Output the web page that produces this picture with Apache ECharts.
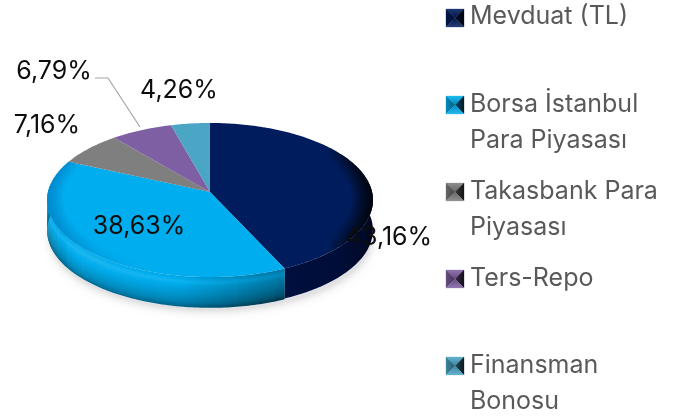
<!DOCTYPE html>
<html><head><meta charset="utf-8">
<style>html,body{margin:0;padding:0;background:#fff}#c{width:678px;height:418px}</style>
<script src="https://cdn.jsdelivr.net/npm/echarts@6/dist/echarts.min.js"></script>
</head><body><div id="c"></div>
<script>
const categories = ['Mevduat (TL)', 'Borsa İstanbul Para Piyasası', 'Takasbank Para Piyasası', 'Ters-Repo', 'Finansman Bonosu'];
const values = [43.16, 38.63, 7.16, 6.79, 4.26];
const valueLabels = ['43,16%', '38,63%', '7,16%', '6,79%', '4,26%'];
const legendLines = [['Mevduat (TL)'], ['Borsa İstanbul', 'Para Piyasası'], ['Takasbank Para', 'Piyasası'], ['Ters-Repo'], ['Finansman', 'Bonosu']];
const colors = ['#001c5c', '#00aeef', '#7f7f7f', '#7f5fa3', '#4ba6c6'];

const labelAt = [[389, 237], [139, 226], [47, 125], [54, 71], [179, 90]];
const CX = 210, CY = 192, R = 162, H = 76.2, K = 0.104, DEPTH = 30;
const total = values.reduce((a, b) => a + b, 0);
function proj(t, r) {
  const u = Math.sin(t) * r, v = Math.cos(t) * r, d = 1 + K * v;
  return [CX + R * u / d, CY - H * v / d];
}
function arc(a, b, r) {
  const p = [], n = Math.max(2, Math.ceil((b - a) * 60));
  for (let i = 0; i <= n; i++) p.push(proj(a + (b - a) * i / n, r));
  return p;
}
function shade(hex, f) {
  const n = parseInt(hex.slice(1), 16);
  const c = [n >> 16, (n >> 8) & 255, n & 255].map(x => Math.round(f >= 0 ? x + (255 - x) * f : x * (1 + f)));
  return 'rgb(' + c.join(',') + ')';
}
// shading profile of the wall from its upper edge to its lower edge
const profile = [[0, 0], [0.18, 0.12], [0.3, 0.03], [0.6, -0.08], [0.85, -0.2], [1, -0.36]];
function profileAt(t) {
  for (let i = 1; i < profile.length; i++) {
    if (t <= profile[i][0]) {
      const [a, fa] = profile[i - 1], [b, fb] = profile[i];
      return fa + (fb - fa) * (t - a) / (b - a);
    }
  }
  return profile[profile.length - 1][1];
}
let cum = 0;
const spans = values.map(v => { const a = cum / total * 2 * Math.PI; cum += v; return [a, cum / total * 2 * Math.PI]; });
const STRIPS = 30, RINGS = 8;

function renderSlice(params) {
  const i = params.dataIndex, [a, b] = spans[i], kids = [];
  const visA = Math.max(a, Math.PI * 0.47), visB = Math.min(b, Math.PI * 1.53);
  if (visB > visA) {
    const outer = arc(visA, visB, 1);
    const xs = outer.map(p => p[0]);
    const x0 = Math.min(...xs), x1 = Math.max(...xs), dy = DEPTH / STRIPS;
    if (i === 0) {
      const bot = outer.map(p => [p[0], p[1] + DEPTH]).reverse();
      kids.push({ type: 'polygon', z2: 1, shape: { points: outer.concat(bot) },
        style: { fill: { type: 'linear', x: x0, y: 0, x2: x1, y2: 0, global: true, colorStops: [
          { offset: 0, color: '#000f3e' }, { offset: 0.6, color: '#000d38' }, { offset: 0.9, color: '#000a2a' }, { offset: 1, color: '#00051a' }] } } });
    } else {
      for (let s = 0; s < STRIPS; s++) {
        const t = (s + 0.5) / STRIPS, f = profileAt(t);
        const top = outer.map(p => [p[0], p[1] + s * dy]);
        const bot = outer.map(p => [p[0], p[1] + (s + 1) * dy + 0.8]).reverse();
        const stops = [{ offset: 0, color: shade(colors[i], f - 0.1) }, { offset: 0.12, color: shade(colors[i], f) }, { offset: 0.55, color: shade(colors[i], f - 0.06) }, { offset: 0.85, color: shade(colors[i], f - 0.26) }, { offset: 1, color: shade(colors[i], f - 0.34) }];
        kids.push({ type: 'polygon', z2: 1 + s * 0.01, shape: { points: top.concat(bot) },
          style: { fill: { type: 'linear', x: x0, y: 0, x2: x1, y2: 0, global: true, colorStops: stops } } });
      }
    }
  }
  kids.push({ type: 'polygon', z2: 5, shape: { points: [[CX, CY]].concat(arc(a, b, 1)) }, style: { fill: colors[i] } });
  // soft rim on the top face, drawn as nested translucent bands
  if (i < 2) {
    for (let k = 0; k < RINGS; k++) {
      const inner = 1 - (k + 1) * 0.012 * (i === 0 ? 1.3 : 1);
      const band = arc(a, b, 1).concat(arc(a, b, inner).reverse());
      const stops = i === 0
        ? [{ offset: 0, color: 'rgba(0,0,0,0)' }, { offset: 0.72, color: 'rgba(0,0,0,0)' }, { offset: 1, color: 'rgba(0,0,0,0.2)' }]
        : [{ offset: 0, color: 'rgba(0,120,190,0.13)' }, { offset: 0.3, color: 'rgba(0,120,190,0.03)' }, { offset: 0.6, color: 'rgba(0,120,190,0)' }];
      kids.push({ type: 'polygon', z2: 6, shape: { points: band }, style: { fill: {
        type: 'linear', x: i === 0 ? CX : CX - R, y: 0, x2: i === 0 ? CX + R : CX, y2: 0, global: true, colorStops: stops } } });
    }
  }
  kids.push({ type: 'text', z2: 20, style: { text: valueLabels[i], x: labelAt[i][0], y: labelAt[i][1],
    align: 'center', verticalAlign: 'middle', font: '25px Inter, sans-serif', fill: '#0d0d0d' } });
  return { type: 'group', children: kids };
}

const legendTop = [18, 105, 192, 279, 366];
const legendTextTop = [16, 104, 191, 278, 365];
const legendGraphics = [];
categories.forEach((name, i) => {
  const y = legendTop[i], x0 = 446, y0 = y - 9, w = 18, c = colors[i];
  const tri = (pts, fill) => legendGraphics.push({ type: 'polygon', shape: { points: pts }, style: { fill, stroke: fill, lineWidth: 0.3 } });
  const g = (x, yy, x2, y2, c1, c2) => ({ type: 'linear', x, y: yy, x2, y2, global: true, colorStops: [{ offset: 0, color: c1 }, { offset: 1, color: c2 }] });
  tri([[x0, y0], [x0 + w, y0], [x0 + 9, y0 + 9]], g(0, y0, 0, y0 + 9, shade(c, 0.12), shade(c, -0.2)));
  tri([[x0, y0], [x0, y0 + w], [x0 + 9, y0 + 9]], g(x0, 0, x0 + 9, 0, shade(c, -0.2), shade(c, -0.45)));
  tri([[x0 + w, y0], [x0 + w, y0 + w], [x0 + 9, y0 + 9]], g(x0 + 9, 0, x0 + w, 0, shade(c, -0.55), shade(c, -0.85)));
  tri([[x0, y0 + w], [x0 + w, y0 + w], [x0 + 9, y0 + 9]], g(0, y0 + 9, 0, y0 + w, shade(c, -0.2), shade(c, 0.15)));
  legendLines[i].forEach((t, k) => legendGraphics.push({ type: 'text', style: {
    text: t, x: 470, y: legendTextTop[i] + k * 36, verticalAlign: 'middle', font: '25px Inter, sans-serif', fill: '#595959' } }));
});

const chart = echarts.init(document.getElementById('c'), null, { renderer: 'canvas' });
chart.setOption({
  animation: false,
  backgroundColor: '#fff',
  graphic: [
    { type: 'polyline', z: 10, shape: { points: [[95, 78], [108, 78], [140, 127]] }, style: { stroke: '#a6a6a6', lineWidth: 1.2, fill: null } },
    ...legendGraphics
  ],
  xAxis: { show: false, min: 0, max: 1 },
  yAxis: { show: false, min: 0, max: 1 },
  grid: { left: 0, right: 0, top: 0, bottom: 0 },
  series: [
    { type: 'custom', silent: true, z: 1, coordinateSystem: 'none', data: [0],
      renderItem: () => ({ type: 'ellipse', shape: { cx: CX + 1, cy: 238, rx: 160, ry: 72 },
        style: { fill: '#e2e2e6', shadowBlur: 10, shadowColor: 'rgba(0,0,0,0.22)' } }) },
    { type: 'custom', name: 'Dağılım', z: 2, coordinateSystem: 'none', data: values.map((v, i) => ({ name: categories[i], value: v })),
      renderItem: renderSlice }
  ]
});
</script></body></html>
